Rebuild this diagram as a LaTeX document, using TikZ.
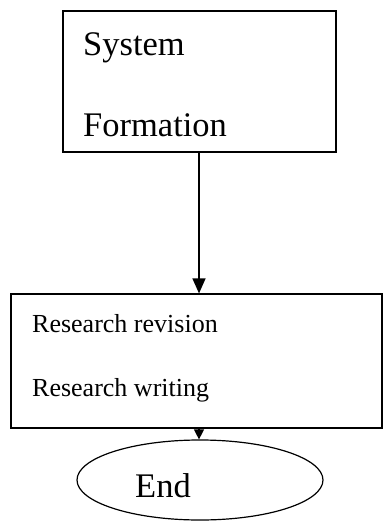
\documentclass[tikz,border=0pt]{standalone}
\usepackage{fontspec}
\setmainfont{Liberation Serif}
\usetikzlibrary{arrows.meta,shapes.geometric}
\begin{document}
\begin{tikzpicture}[x=1pt,y=-1pt,
  boxstyle/.style={draw,line width=1.2pt,inner sep=0pt,rectangle},
  bigtxt/.style={inner sep=0pt,anchor=base west,font=\fontsize{34.5}{38}\selectfont},
  smalltxt/.style={inner sep=0pt,anchor=base west,font=\fontsize{26}{30}\selectfont},
  conn/.style={line width=1.2pt}]
\useasboundingbox (0,0) rectangle (383,522);
\node[boxstyle,minimum width=273pt,minimum height=141pt] (sys) at (199.5,81.5) {};
\node[bigtxt] (t1) at (83,55) {System};
\node[bigtxt] (t2) at (83,136.5) {Formation};
\node[boxstyle,minimum width=371pt,minimum height=134pt] (res) at (196.5,361) {};
\node[smalltxt] (t3) at (32,332) {Research revision};
\node[smalltxt] (t4) at (32,396) {Research writing};
\node[draw,ellipse,line width=1.2pt,minimum width=246pt,minimum height=80pt,inner sep=0pt] (end) at (200,480) {};
\node[bigtxt] (t5) at (135,497) {End};
\coordinate (a1) at (199,152);
\coordinate (a2) at (199,428);
\draw[conn,-{Triangle[length=15pt,width=13pt]}] (a1) -- (a1 |- res.north);
\draw[conn,-{Triangle[length=10pt,width=10pt]}] (a2) -- (a2 |- end.north);
\end{tikzpicture}
\end{document}
